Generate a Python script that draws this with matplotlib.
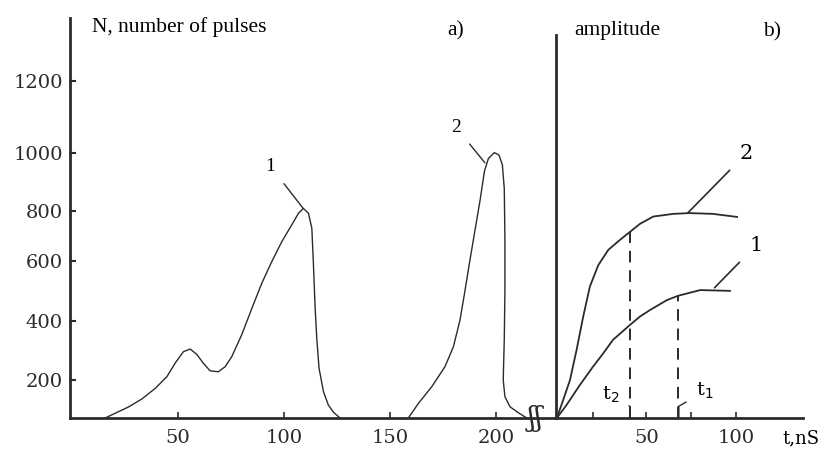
import numpy as np
import matplotlib.pyplot as plt
from matplotlib.scale import FuncScale

# a) pulse count spectra
t1_curve = [15.6, 20.3, 26.6, 32.9, 39.2, 44.7, 48.6, 52.5, 55.7, 58.8, 61.9,
            65.1, 69, 72.2, 75.3, 80, 84.8, 89.5, 94.2, 98.9, 103.6, 106.8,
            109.1, 111.5, 113.1, 113.8, 114.6, 115.4, 116.5, 118.6, 120.9,
            123.3, 126.4]
n1_curve = [0, 25, 58, 100, 156, 211, 257, 296, 305, 287, 257, 231, 228, 245,
            279, 353, 442, 526, 598, 677, 744, 791, 809, 791, 731, 598, 453,
            344, 240, 138, 68, 30, 0]
t2_curve = [158.6, 163.4, 169.7, 175.9, 179.9, 183, 185.4, 187.7, 190.1, 192.5,
            194.5, 196.4, 199.2, 201.4, 203, 203.9, 204.2, 204.2, 203.9, 203.4,
            204.2, 206.6, 210.5, 214.5]
n2_curve = [0, 77, 165, 245, 313, 403, 503, 604, 724, 838, 936, 981, 1001, 993,
            959, 877, 684, 503, 339, 200, 112, 59, 28, 0]
n_ticks = [200, 400, 600, 800, 1000, 1200]
t_ticks_a = [50, 100, 150, 200]

# b) amplitude vs time
tb2 = [0, 3.5, 7.3, 11, 14.7, 18.4, 23.1, 28.7, 35.2, 40.8, 46.4, 53.8, 65,
       74.3, 87, 100.6]
amp2 = [0, 4.7, 9.9, 17.8, 26.5, 34.3, 39.9, 43.9, 46.5, 48.6, 50.7, 52.6,
        53.3, 53.5, 53.3, 52.5]
tb1 = [0, 5.4, 12.8, 20, 25.9, 31.3, 40.8, 46.4, 52, 61.5, 67.6, 80, 96.6]
amp1 = [0, 3.4, 8.6, 13.3, 16.9, 20.4, 24.3, 26.5, 28.2, 30.8, 31.9, 33.4, 33.2]
t_mark2 = 40.8
t_mark1 = 67.6
t_ticks_b = [20, 50, 75, 100]
t_labels_b = {50: "50", 100: "100"}

# uneven spacing of the hand-drawn N axis (value -> height in px)
ax_vals = [-2000, 0, 200, 400, 600, 800, 1000, 1200, 1400, 4000]
ax_h = [-380, 0, 38, 97, 157, 207, 265, 337, 409, 1345]


def fwd(y):
    return np.interp(y, ax_vals, ax_h)


def inv(h):
    return np.interp(h, ax_h, ax_vals)


W, H = 823, 453
fig = plt.figure(figsize=(W / 100, H / 100), dpi=100)
ink = "#2b2b2b"
serif = "Liberation Serif"

# ---------- panel a ----------
ax = fig.add_axes([70 / W, 35 / H, (556 - 70) / W, 400 / H])
ax.set_yscale(FuncScale(ax, (fwd, inv)))
ax.plot(t1_curve, n1_curve, color=ink, lw=1.0)
ax.plot(t2_curve, n2_curve, color=ink, lw=1.0)
ax.set_xlim(-1, 228.3)
ax.set_ylim(0, 1375)
for s in ["top", "right"]:
    ax.spines[s].set_visible(False)
for s in ["left", "bottom"]:
    ax.spines[s].set_linewidth(2)
    ax.spines[s].set_color(ink)
ax.set_yticks(n_ticks)
ax.set_yticklabels([str(v) for v in n_ticks], family="DejaVu Serif", fontsize=14)
ax.set_xticks(t_ticks_a)
ax.set_xticklabels([str(v) for v in t_ticks_a], family="DejaVu Serif", fontsize=14)
ax.tick_params(axis="y", direction="in", length=4, width=1.5, pad=5, colors=ink)
ax.tick_params(axis="x", direction="in", length=4, width=1.2, pad=8, colors=ink)
ax.set_facecolor("none")

# labels and leaders
ax.annotate("1", xy=(109, 809), xytext=(93.5, 955), fontsize=14, family=serif,
            ha="center", va="center",
            arrowprops=dict(arrowstyle="-", color=ink, lw=1, shrinkA=7, shrinkB=0))
ax.annotate("2", xy=(194.8, 966), xytext=(181, 1072), fontsize=14, family=serif,
            ha="center", va="center",
            arrowprops=dict(arrowstyle="-", color=ink, lw=1, shrinkA=7, shrinkB=0))
ax.text(218.5, 0, "ʃʃ", fontsize=20, family="DejaVu Serif", ha="center",
        va="center", color=ink)

fig.text(92 / W, 1 - 27 / H, "N, number of pulses", family=serif, fontsize=15.5,
         ha="left", va="center")
fig.text(456 / W, 1 - 31 / H, "a)", family=serif, fontsize=15.5, ha="center",
         va="center")

# ---------- panel b ----------
bx = fig.add_axes([556 / W, 35 / H, (803 - 556) / W, 383 / H])
bx.plot(tb2, amp2, color=ink, lw=1.3)
bx.plot(tb1, amp1, color=ink, lw=1.3)
bx.set_xlim(-0.5, 137.4)
bx.set_ylim(0, 100)
bx.set_facecolor("none")
for s in ["top", "right"]:
    bx.spines[s].set_visible(False)
for s in ["left", "bottom"]:
    bx.spines[s].set_linewidth(2)
    bx.spines[s].set_color(ink)
bx.set_yticks([])
bx.set_xticks(t_ticks_b)
bx.set_xticklabels([t_labels_b.get(v, "") for v in t_ticks_b],
                   family="DejaVu Serif", fontsize=14)
bx.tick_params(axis="x", direction="in", length=4, width=1.2, pad=8, colors=ink)

# dashed markers
bx.plot([t_mark2, t_mark2], [0, np.interp(t_mark2, tb2, amp2)], color=ink,
        lw=1.4, ls=(0, (6, 4)))
bx.plot([t_mark1, t_mark1], [0, np.interp(t_mark1, tb1, amp1)], color=ink,
        lw=1.4, ls=(0, (6, 4)))

bx.annotate("2", xy=(73, 53.5), xytext=(105.5, 69), fontsize=15,
            family="DejaVu Serif", ha="center", va="center",
            arrowprops=dict(arrowstyle="-", color=ink, lw=1.2, shrinkA=7,
                            shrinkB=0))
bx.annotate("1", xy=(88, 34), xytext=(111, 45), fontsize=15,
            family="DejaVu Serif", ha="center", va="center",
            arrowprops=dict(arrowstyle="-", color=ink, lw=1.2, shrinkA=7,
                            shrinkB=0))
bx.annotate("t$_2$", xy=(t_mark2, 0), xytext=(t_mark2 - 11, 6), fontsize=14,
            family="DejaVu Serif", ha="center", va="center",
            arrowprops=dict(arrowstyle="-", color=ink, lw=1,
                            connectionstyle="angle,angleA=-30,angleB=90,rad=0",
                            shrinkA=6, shrinkB=0))
bx.annotate("t$_1$", xy=(t_mark1 + 0.5, 0), xytext=(t_mark1 + 15, 7), fontsize=14,
            family="DejaVu Serif", ha="center", va="center",
            arrowprops=dict(arrowstyle="-", color=ink, lw=1,
                            connectionstyle="angle,angleA=-150,angleB=90,rad=0",
                            shrinkA=6, shrinkB=0))

fig.text(801 / W, 1 - 438 / H, "t,nS", family="DejaVu Serif", fontsize=13,
         ha="center", va="center")
fig.text(617 / W, 1 - 30 / H, "amplitude", family=serif, fontsize=15.5,
         ha="center", va="center")
fig.text(772 / W, 1 - 32 / H, "b)", family=serif, fontsize=15.5, ha="center",
         va="center")

fig.savefig("out.png", dpi=100)
